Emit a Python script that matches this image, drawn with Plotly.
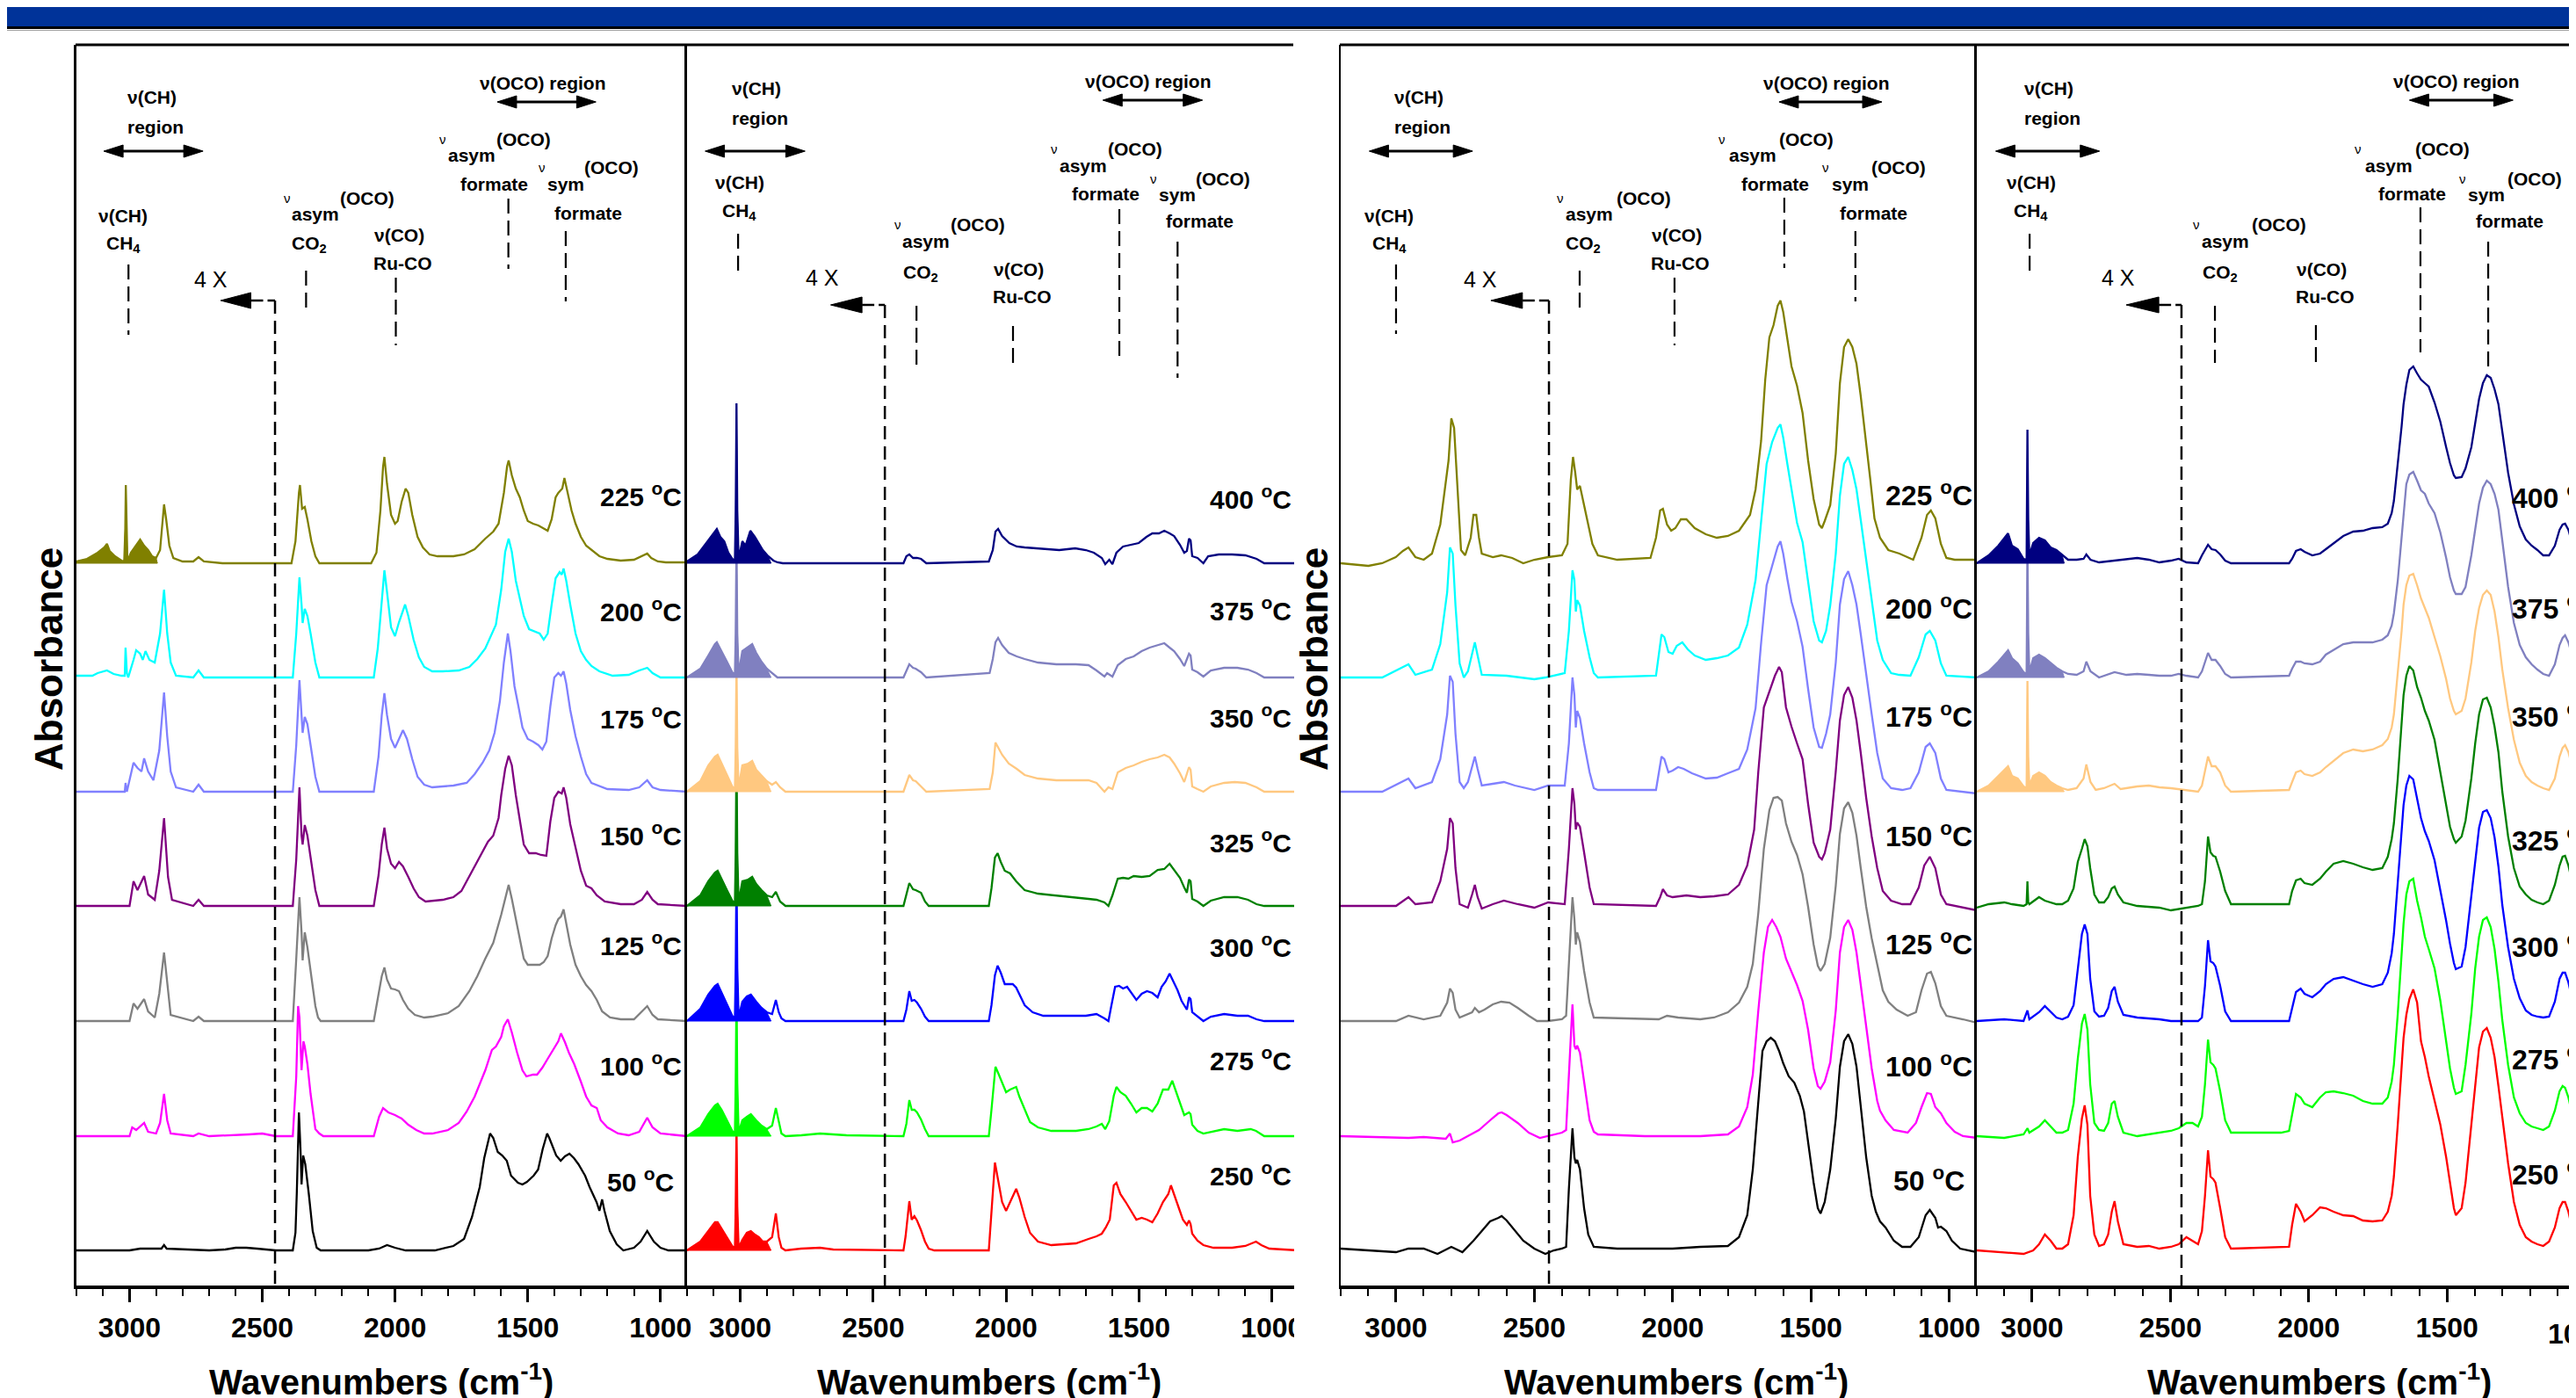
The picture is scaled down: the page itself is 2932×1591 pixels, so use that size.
import plotly.graph_objects as go

W, H = 2932, 1591

# ---------------- data (absorbance, arbitrary units, per spectrum: (wavenumber, value)) ----------------
TEMPS_LOW = ['50', '100', '125', '150', '175', '200', '225']
TEMPS_HIGH = ['250', '275', '300', '325', '350', '375', '400']
OFFSETS = [40, 170, 301, 432, 562, 692, 822]   # stacking offsets, bottom -> top

COLORS = {'50': '#000000', '100': '#FF00FF', '125': '#808080', '150': '#800080',
          '175': '#8080FF', '200': '#00FFFF', '225': '#808000',
          '250': '#FF0000', '275': '#00FF00', '300': '#0000FF', '325': '#008000',
          '350': '#FFC880', '375': '#8080C0', '400': '#000080'}

# ---- left figure, low temperatures ----
A50 = [(3200,0),(3000,0),(2960,2),(2945,2),(2880,2),(2870,6),(2860,2),(2700,0),(2640,1),(2600,3),(2560,3),(2520,2),(2450,0),(2385,0),(2375,20),(2370,65),(2362,157),(2356,115),(2352,75),(2346,108),(2338,98),(2325,65),(2310,22),(2295,3),(2280,0),(2100,0),(2060,2),(2030,6),(2000,3),(1960,0),(1850,0),(1780,5),(1740,13),(1710,38),(1681,72),(1664,105),(1642,133),(1630,128),(1613,112),(1596,108),(1579,102),(1563,85),(1537,77),(1520,75),(1503,78),(1478,85),(1461,92),(1444,115),(1427,133),(1419,128),(1393,108),(1376,102),(1360,107),(1343,110),(1326,105),(1309,98),(1284,85),(1267,72),(1241,55),(1230,45),(1220,58),(1211,45),(1191,22),(1165,7),(1140,0),(1100,3),(1075,10),(1050,22),(1025,10),(1000,3),(970,0),(900,0)]
A100 = [(3200,0),(3000,0),(2990,10),(2975,7),(2945,15),(2930,5),(2900,3),(2885,15),(2870,48),(2858,18),(2845,3),(2760,0),(2740,3),(2700,0),(2550,2),(2500,3),(2450,0),(2385,0),(2372,68),(2365,148),(2360,135),(2352,75),(2345,108),(2340,102),(2330,82),(2318,48),(2300,8),(2285,3),(2270,0),(2080,0),(2060,22),(2045,32),(2025,27),(2000,24),(1975,20),(1950,13),(1920,7),(1890,3),(1860,3),(1800,7),(1760,15),(1730,28),(1700,45),(1660,75),(1635,98),(1620,102),(1600,113),(1590,125),(1575,133),(1560,118),(1540,95),(1520,75),(1505,68),(1480,70),(1465,70),(1445,78),(1425,88),(1410,95),(1395,102),(1385,108),(1375,117),(1360,107),(1345,95),(1325,82),(1300,62),(1280,45),(1260,35),(1240,32),(1225,18),(1200,10),(1160,3),(1120,1),(1080,5),(1050,21),(1030,10),(1000,3),(900,0)]
A125 = [(3200,0),(3000,0),(2985,20),(2970,14),(2945,25),(2930,11),(2905,4),(2888,31),(2870,78),(2858,44),(2845,7),(2760,0),(2740,5),(2720,0),(2385,0),(2372,71),(2360,141),(2352,101),(2348,69),(2340,101),(2330,84),(2318,57),(2300,17),(2290,4),(2280,0),(2080,0),(2065,27),(2050,51),(2040,61),(2030,47),(2015,37),(2000,36),(1985,34),(1970,24),(1950,14),(1925,7),(1890,4),(1860,5),(1800,9),(1760,17),(1720,34),(1690,51),(1660,71),(1630,89),(1600,121),(1585,141),(1572,155),(1560,139),(1545,117),(1530,94),(1515,71),(1500,64),(1475,64),(1455,64),(1440,67),(1425,74),(1410,94),(1395,109),(1385,116),(1375,119),(1365,127),(1355,111),(1340,87),(1320,64),(1300,51),(1280,41),(1260,34),(1240,24),(1220,11),(1190,4),(1150,2),(1100,2),(1070,11),(1050,17),(1030,7),(1010,2),(900,0)]
A150 = [(3200,0),(3000,0),(2985,28),(2970,18),(2945,34),(2930,13),(2905,7),(2888,40),(2870,100),(2855,33),(2840,7),(2760,0),(2740,7),(2720,0),(2385,0),(2372,53),(2360,135),(2352,80),(2348,70),(2340,92),(2330,80),(2318,55),(2300,18),(2285,0),(2080,0),(2062,35),(2050,70),(2040,89),(2030,65),(2015,48),(2000,43),(1985,50),(1970,45),(1950,33),(1930,20),(1910,10),(1885,5),(1820,7),(1780,10),(1750,17),(1710,40),(1680,57),(1650,73),(1630,80),(1610,100),(1600,126),(1585,156),(1572,171),(1560,160),(1545,126),(1530,96),(1515,70),(1495,60),(1470,60),(1450,58),(1430,57),(1415,96),(1400,123),(1385,130),(1372,128),(1365,135),(1355,123),(1340,93),(1320,65),(1300,40),(1280,23),(1260,20),(1240,12),(1210,5),(1150,2),(1100,2),(1070,7),(1050,16),(1030,7),(1010,2),(900,0)]
A175 = [(3200,0),(3030,0),(3018,0),(3015,10),(3010,0),(2985,33),(2970,27),(2955,23),(2945,38),(2930,23),(2910,13),(2888,47),(2870,113),(2858,63),(2845,23),(2825,5),(2760,0),(2740,8),(2720,0),(2385,0),(2372,53),(2360,127),(2352,87),(2348,67),(2340,85),(2330,77),(2318,53),(2300,17),(2285,0),(2080,0),(2062,40),(2050,87),(2040,112),(2030,87),(2015,60),(2000,50),(1985,60),(1970,70),(1955,60),(1935,37),(1915,17),(1890,8),(1860,5),(1780,7),(1730,10),(1700,20),(1670,33),(1645,47),(1625,67),(1605,103),(1590,147),(1575,180),(1565,160),(1550,120),(1535,97),(1520,73),(1500,60),(1480,57),(1460,53),(1445,48),(1430,57),(1415,97),(1400,130),(1385,135),(1375,132),(1365,137),(1355,123),(1340,93),(1320,63),(1300,40),(1280,20),(1260,10),(1200,3),(1120,2),(1080,5),(1050,13),(1030,5),(1000,2),(900,0)]
A200 = [(3200,2),(3140,2),(3120,5),(3085,8),(3060,4),(3030,2),(3018,2),(3015,34),(3010,5),(3005,0),(2985,20),(2975,31),(2960,27),(2950,20),(2940,30),(2925,20),(2905,17),(2885,50),(2870,100),(2858,50),(2845,17),(2825,2),(2760,0),(2740,8),(2720,0),(2385,0),(2372,50),(2360,114),(2352,83),(2348,62),(2340,78),(2330,70),(2318,50),(2300,17),(2285,0),(2080,0),(2065,33),(2050,83),(2040,122),(2030,97),(2015,57),(2000,47),(1985,63),(1962,83),(1950,70),(1930,43),(1910,23),(1890,12),(1860,7),(1820,7),(1760,8),(1720,12),(1690,21),(1660,33),(1640,47),(1620,60),(1600,100),(1585,143),(1572,158),(1560,143),(1545,110),(1530,90),(1515,70),(1495,55),(1470,52),(1455,50),(1440,43),(1425,50),(1410,83),(1395,113),(1380,120),(1372,117),(1365,124),(1355,110),(1340,83),(1320,50),(1300,30),(1280,20),(1260,13),(1230,7),(1180,2),(1120,3),(1080,8),(1050,11),(1030,5),(1000,0),(900,0)]
A225 = [(3200,2),(3160,5),(3120,12),(3095,18),(3085,22),(3075,14),(3055,8),(3030,3),(3020,2),(3016,40),(3014,89),(3011,30),(3008,2),(2995,12),(2975,20),(2960,27),(2945,20),(2930,15),(2915,8),(2900,6),(2885,15),(2877,45),(2870,67),(2862,50),(2850,20),(2835,6),(2800,2),(2760,2),(2740,7),(2720,2),(2650,0),(2390,0),(2375,25),(2362,80),(2358,89),(2350,62),(2340,64),(2330,50),(2315,25),(2300,8),(2285,0),(2090,0),(2070,12),(2055,60),(2045,110),(2040,121),(2030,90),(2015,55),(2000,45),(1990,48),(1975,70),(1960,85),(1950,80),(1935,55),(1915,30),(1895,18),(1870,10),(1840,8),(1780,8),(1740,10),(1700,16),(1660,28),(1630,36),(1610,45),(1590,80),(1578,110),(1572,117),(1560,100),(1545,85),(1530,75),(1515,60),(1500,48),(1480,45),(1460,43),(1440,40),(1425,37),(1410,50),(1395,75),(1385,80),(1370,85),(1362,97),(1350,80),(1335,60),(1320,45),(1300,30),(1280,20),(1260,15),(1230,8),(1200,5),(1150,3),(1100,4),(1070,8),(1050,11),(1035,6),(1010,2),(980,1),(900,1)]

# ---- left figure, high temperatures ----
B250 = [(3200,0),(3150,10),(3120,22),(3095,32),(3085,32),(3070,25),(3050,15),(3030,5),(3020,2),(3017,50),(3014,145),(3011,50),(3006,3),(2992,12),(2975,20),(2960,22),(2945,18),(2930,15),(2915,10),(2900,10),(2880,15),(2866,42),(2855,15),(2845,3),(2830,0),(2771,2),(2700,3),(2650,1),(2386,0),(2378,16),(2364,56),(2355,35),(2345,39),(2335,34),(2320,23),(2305,10),(2291,2),(2270,0),(2065,0),(2055,40),(2042,100),(2030,80),(2015,55),(2000,45),(1985,55),(1962,70),(1950,60),(1930,38),(1910,20),(1880,10),(1830,6),(1737,8),(1690,13),(1660,16),(1640,19),(1625,26),(1610,35),(1595,74),(1585,77),(1570,64),(1550,55),(1530,45),(1510,35),(1490,37),(1470,35),(1450,32),(1430,42),(1410,55),(1390,64),(1380,74),(1365,62),(1350,48),(1335,35),(1320,29),(1312,34),(1306,30),(1300,19),(1280,11),(1258,6),(1220,3),(1150,3),(1100,5),(1060,10),(1040,6),(1010,2),(900,0)]
B275 = [(3200,0),(3150,10),(3120,25),(3095,35),(3085,37),(3070,30),(3050,18),(3030,6),(3020,3),(3017,60),(3014,169),(3011,60),(3006,4),(2992,18),(2975,22),(2960,25),(2940,18),(2920,12),(2900,8),(2880,12),(2866,32),(2855,15),(2845,3),(2830,0),(2770,1),(2700,3),(2600,1),(2386,0),(2375,14),(2364,41),(2355,30),(2345,30),(2335,27),(2320,19),(2305,8),(2291,0),(2065,0),(2055,30),(2040,79),(2030,72),(2015,60),(2000,50),(1985,53),(1962,56),(1950,45),(1930,30),(1910,16),(1880,10),(1830,6),(1737,6),(1690,8),(1660,11),(1640,14),(1627,8),(1612,17),(1595,46),(1585,56),(1570,50),(1550,46),(1530,37),(1510,27),(1490,32),(1470,32),(1450,28),(1430,37),(1410,53),(1390,53),(1375,63),(1360,50),(1345,37),(1330,24),(1312,27),(1306,25),(1300,13),(1280,6),(1258,3),(1230,5),(1180,8),(1130,6),(1080,8),(1060,6),(1029,0),(900,0)]
B300 = [(3200,0),(3150,14),(3120,30),(3095,40),(3085,42),(3070,32),(3050,20),(3030,6),(3020,3),(3017,60),(3014,174),(3011,60),(3006,4),(2992,22),(2975,28),(2960,30),(2940,22),(2920,15),(2900,10),(2880,8),(2866,24),(2855,10),(2845,3),(2830,0),(2386,0),(2375,13),(2364,34),(2355,23),(2345,24),(2335,21),(2320,14),(2305,5),(2291,0),(2065,0),(2055,18),(2042,52),(2032,63),(2020,55),(2005,42),(1990,42),(1975,42),(1962,38),(1950,30),(1930,18),(1900,10),(1860,6),(1700,6),(1660,8),(1630,3),(1615,0),(1605,16),(1590,39),(1575,40),(1560,37),(1545,39),(1525,31),(1510,24),(1490,31),(1470,34),(1450,32),(1430,27),(1415,39),(1400,45),(1385,54),(1370,45),(1355,35),(1340,23),(1320,13),(1312,27),(1306,25),(1300,10),(1280,5),(1258,0),(1230,5),(1180,8),(1130,6),(1090,6),(1058,2),(1029,0),(900,0)]
B325 = [(3200,0),(3150,12),(3120,28),(3095,38),(3085,40),(3070,30),(3050,18),(3030,6),(3020,3),(3017,60),(3014,180),(3011,60),(3006,4),(2992,28),(2970,30),(2955,33),(2940,25),(2920,18),(2900,12),(2880,10),(2866,16),(2850,5),(2830,0),(2386,0),(2372,18),(2364,26),(2350,19),(2340,18),(2320,15),(2305,5),(2291,0),(2065,0),(2055,20),(2042,55),(2032,60),(2020,50),(2005,40),(1985,37),(1962,28),(1930,18),(1880,14),(1811,12),(1737,10),(1690,8),(1660,7),(1630,4),(1615,0),(1600,12),(1580,31),(1560,32),(1540,31),(1520,34),(1490,33),(1460,34),(1430,41),(1405,42),(1385,48),(1368,41),(1346,32),(1330,21),(1320,15),(1312,30),(1306,28),(1300,8),(1280,5),(1258,0),(1230,6),(1180,10),(1130,10),(1090,7),(1058,2),(1029,0),(900,0)]
B350 = [(3200,0),(3150,12),(3120,30),(3095,40),(3085,42),(3070,32),(3050,18),(3030,6),(3020,3),(3017,50),(3014,150),(3011,50),(3006,4),(2992,30),(2970,32),(2955,35),(2940,25),(2920,18),(2900,12),(2880,8),(2866,11),(2850,5),(2830,0),(2386,0),(2375,10),(2364,19),(2350,13),(2340,12),(2320,6),(2300,0),(2062,3),(2050,22),(2040,56),(2030,50),(2015,42),(1990,32),(1960,26),(1930,19),(1880,15),(1811,13),(1737,13),(1690,13),(1660,10),(1630,0),(1615,5),(1600,3),(1580,22),(1550,27),(1520,30),(1490,34),(1460,37),(1430,39),(1405,42),(1385,39),(1368,32),(1346,21),(1330,11),(1312,28),(1306,25),(1300,6),(1280,3),(1258,0),(1230,6),(1180,10),(1140,11),(1100,10),(1058,5),(1029,0),(900,0)]
B375 = [(3200,0),(3150,10),(3120,25),(3095,38),(3088,40),(3070,30),(3050,18),(3030,6),(3020,3),(3017,50),(3014,160),(3011,50),(3006,4),(2992,30),(2970,35),(2955,38),(2940,28),(2920,18),(2900,10),(2880,5),(2860,0),(2386,0),(2375,8),(2364,15),(2350,11),(2340,10),(2320,6),(2300,0),(2062,5),(2050,21),(2040,40),(2030,45),(2015,37),(1990,28),(1960,24),(1930,21),(1880,17),(1811,15),(1737,15),(1690,14),(1660,8),(1630,1),(1620,5),(1600,1),(1580,14),(1550,21),(1520,24),(1490,30),(1460,34),(1430,37),(1405,39),(1385,34),(1368,30),(1346,21),(1330,13),(1312,27),(1306,25),(1300,9),(1280,6),(1258,1),(1230,8),(1180,11),(1130,11),(1090,9),(1058,5),(1029,0),(900,0)]
B400 = [(3200,2),(3160,10),(3130,22),(3110,30),(3095,35),(3088,39),(3075,30),(3060,25),(3045,12),(3030,5),(3020,3),(3017,60),(3014,182),(3011,60),(3006,5),(2992,25),(2980,20),(2962,37),(2945,30),(2930,22),(2915,15),(2895,8),(2875,3),(2860,1),(2840,0),(2386,0),(2375,8),(2364,10),(2350,6),(2335,6),(2320,5),(2300,0),(2065,2),(2050,15),(2040,36),(2030,39),(2015,31),(1988,23),(1960,19),(1930,18),(1880,17),(1800,15),(1740,17),(1700,15),(1670,12),(1640,6),(1627,-1),(1612,4),(1600,-1),(1585,12),(1560,19),(1530,21),(1501,23),(1472,30),(1450,34),(1425,34),(1405,37),(1385,34),(1368,31),(1346,21),(1330,12),(1320,14),(1312,28),(1306,26),(1300,8),(1280,6),(1258,0),(1240,8),(1200,10),(1150,10),(1100,9),(1058,5),(1029,0),(900,0)]

# ---- right figure, low temperatures ----
C50 = [(3200,2),(3100,0),(3000,-2),(2955,2),(2900,2),(2850,-4),(2800,4),(2760,-2),(2720,11),(2690,22),(2660,33),(2630,37),(2618,39),(2600,34),(2570,22),(2540,11),(2500,2),(2460,-4),(2430,0),(2400,2),(2385,4),(2375,70),(2362,139),(2355,106),(2350,99),(2345,103),(2335,92),(2320,48),(2305,18),(2285,4),(2200,2),(2000,2),(1900,4),(1800,5),(1760,15),(1730,40),(1710,92),(1690,165),(1675,227),(1660,238),(1645,242),(1630,238),(1615,227),(1600,213),(1580,198),(1560,191),(1540,176),(1525,158),(1510,121),(1490,77),(1475,48),(1465,42),(1450,55),(1430,92),(1410,150),(1395,209),(1380,238),(1365,246),(1350,235),(1335,209),(1320,165),(1300,106),(1280,62),(1265,44),(1250,33),(1230,26),(1200,11),(1170,4),(1140,4),(1110,15),(1085,40),(1070,46),(1050,37),(1040,26),(1030,27),(1010,22),(990,11),(960,2),(900,-2)]
C100 = [(3200,0),(2955,-2),(2900,-1),(2820,-3),(2805,3),(2795,-7),(2770,-5),(2740,0),(2700,7),(2660,18),(2630,26),(2618,27),(2600,24),(2560,15),(2520,4),(2480,-2),(2450,0),(2400,4),(2385,7),(2375,70),(2362,150),(2355,103),(2350,99),(2345,103),(2335,95),(2320,62),(2300,18),(2285,5),(2270,2),(2100,0),(1900,0),(1800,2),(1760,11),(1730,33),(1710,70),(1690,143),(1670,209),(1655,238),(1640,246),(1625,238),(1610,227),(1590,202),(1570,187),(1550,172),(1530,154),(1510,121),(1490,77),(1475,57),(1465,54),(1450,62),(1430,84),(1410,143),(1395,209),(1380,238),(1365,246),(1350,235),(1335,209),(1320,172),(1300,121),(1280,77),(1260,40),(1250,29),(1230,18),(1200,7),(1150,4),(1120,15),(1100,33),(1080,49),(1066,48),(1050,33),(1030,26),(1010,15),(980,5),(950,0),(900,-2)]
C125 = [(3200,0),(3000,0),(2955,6),(2900,2),(2840,6),(2815,21),(2805,37),(2795,32),(2785,13),(2770,4),(2725,10),(2715,15),(2700,10),(2680,13),(2650,19),(2620,22),(2590,21),(2560,15),(2520,6),(2490,0),(2450,0),(2400,2),(2385,6),(2375,65),(2362,141),(2355,116),(2350,87),(2345,101),(2335,90),(2320,57),(2300,21),(2285,4),(2100,2),(2050,2),(2020,6),(1980,4),(1900,2),(1850,4),(1800,10),(1760,21),(1730,39),(1710,65),(1690,123),(1670,196),(1650,240),(1635,254),(1620,255),(1605,251),(1590,225),(1570,204),(1550,189),(1530,167),(1510,130),(1490,87),(1475,63),(1465,57),(1450,65),(1430,95),(1410,154),(1395,213),(1380,242),(1365,249),(1350,237),(1335,211),(1320,175),(1300,130),(1280,94),(1260,65),(1240,35),(1220,22),(1190,13),(1150,6),(1120,10),(1100,35),(1080,54),(1066,56),(1050,43),(1030,17),(1010,6),(950,2),(900,-2)]
C150 = [(3200,0),(3000,0),(2955,10),(2930,2),(2870,4),(2840,28),(2815,65),(2805,100),(2795,94),(2785,43),(2770,2),(2740,-2),(2725,13),(2715,24),(2705,10),(2690,-3),(2650,2),(2610,6),(2560,2),(2500,-2),(2450,4),(2390,2),(2375,65),(2362,134),(2355,116),(2350,87),(2345,95),(2335,90),(2320,61),(2300,21),(2285,2),(2060,0),(2045,10),(2035,19),(2020,12),(2000,10),(1950,12),(1900,10),(1850,11),(1800,13),(1760,24),(1730,46),(1705,87),(1690,153),(1670,226),(1650,244),(1630,262),(1615,272),(1605,266),(1590,226),(1570,204),(1550,185),(1530,167),(1510,116),(1490,72),(1470,56),(1460,53),(1450,60),(1430,87),(1410,153),(1395,211),(1380,240),(1365,249),(1350,237),(1335,211),(1320,175),(1300,123),(1280,79),(1260,43),(1240,17),(1210,6),(1170,2),(1140,2),(1110,21),(1090,46),(1070,56),(1050,43),(1030,13),(1010,2),(900,-5)]
C175 = [(3200,0),(3050,0),(2955,15),(2930,4),(2870,11),(2840,37),(2815,88),(2805,132),(2795,125),(2785,66),(2770,11),(2755,4),(2740,11),(2725,29),(2715,40),(2705,26),(2690,7),(2650,9),(2610,11),(2570,7),(2500,2),(2450,7),(2390,7),(2375,55),(2362,130),(2355,110),(2350,73),(2345,92),(2335,84),(2320,55),(2300,22),(2285,4),(2270,2),(2060,2),(2050,22),(2040,40),(2030,37),(2015,22),(2000,24),(1980,28),(1960,26),(1930,21),(1880,15),(1840,16),(1800,21),(1760,26),(1730,48),(1700,95),(1680,169),(1660,235),(1640,257),(1620,279),(1610,285),(1600,271),(1585,242),(1570,216),(1550,194),(1530,165),(1510,117),(1490,73),(1470,51),(1460,50),(1445,66),(1430,88),(1410,147),(1395,213),(1380,242),(1365,251),(1350,235),(1335,213),(1320,180),(1300,132),(1280,88),(1260,44),(1240,15),(1210,4),(1170,2),(1140,4),(1110,22),(1085,51),(1070,55),(1050,44),(1030,15),(1010,2),(900,-2)]
C200 = [(3200,0),(3050,0),(2955,15),(2930,3),(2870,9),(2840,38),(2815,97),(2805,148),(2795,141),(2785,82),(2770,16),(2755,0),(2740,7),(2725,27),(2715,40),(2705,25),(2690,3),(2600,2),(2500,-2),(2460,0),(2420,3),(2390,5),(2375,53),(2362,122),(2355,111),(2350,75),(2345,88),(2335,82),(2320,53),(2300,23),(2285,5),(2270,0),(2060,2),(2050,23),(2040,49),(2030,46),(2015,29),(2000,27),(1985,36),(1965,40),(1945,32),(1920,25),(1880,20),(1840,22),(1800,25),(1760,34),(1730,60),(1700,111),(1680,176),(1660,243),(1640,268),(1620,284),(1610,288),(1600,273),(1585,243),(1570,213),(1550,176),(1530,154),(1510,111),(1490,64),(1470,42),(1460,40),(1445,53),(1430,82),(1410,141),(1395,207),(1380,243),(1365,251),(1350,236),(1335,214),(1320,180),(1300,133),(1280,89),(1260,42),(1240,20),(1210,5),(1180,3),(1140,2),(1110,23),(1085,49),(1070,53),(1050,42),(1030,16),(1010,2),(900,0)]
C225 = [(3200,0),(3100,-3),(3050,0),(3001,7),(2975,14),(2955,18),(2930,7),(2900,4),(2870,11),(2840,44),(2810,117),(2800,165),(2790,154),(2780,95),(2765,15),(2750,9),(2730,29),(2720,55),(2710,55),(2700,29),(2690,11),(2650,7),(2620,9),(2580,6),(2540,0),(2500,4),(2450,7),(2400,9),(2380,22),(2368,95),(2360,121),(2352,103),(2345,84),(2335,88),(2320,66),(2305,44),(2290,22),(2270,9),(2200,4),(2080,6),(2060,29),(2045,60),(2035,62),(2020,44),(2005,37),(1990,40),(1970,50),(1950,50),(1920,40),(1880,33),(1840,29),(1800,31),(1760,37),(1720,55),(1700,84),(1680,139),(1665,209),(1650,257),(1635,271),(1620,293),(1610,299),(1600,286),(1585,257),(1570,224),(1550,202),(1530,171),(1510,117),(1490,73),(1470,44),(1460,40),(1450,48),(1430,66),(1410,125),(1395,205),(1380,246),(1365,255),(1350,246),(1335,227),(1320,191),(1300,139),(1285,95),(1270,51),(1250,29),(1220,15),(1180,11),(1130,4),(1100,29),(1080,55),(1066,60),(1050,51),(1030,22),(1010,6),(980,4),(900,4)]

# ---- right figure, high temperatures ----
D250 = [(3200,0),(3101,-2),(3031,-4),(2996,0),(2975,7),(2954,18),(2933,11),(2912,2),(2891,2),(2870,7),(2850,40),(2835,106),(2820,150),(2810,165),(2800,143),(2790,62),(2775,18),(2758,5),(2740,7),(2725,18),(2712,44),(2702,56),(2690,33),(2670,7),(2620,4),(2578,5),(2540,2),(2498,4),(2470,7),(2442,15),(2420,11),(2400,7),(2386,22),(2375,62),(2364,114),(2355,84),(2345,81),(2337,77),(2320,48),(2302,15),(2281,2),(2071,4),(2060,29),(2046,53),(2029,44),(2015,33),(1987,40),(1959,49),(1938,48),(1910,44),(1875,40),(1839,39),(1804,34),(1769,33),(1734,34),(1714,44),(1700,62),(1692,84),(1678,143),(1664,209),(1657,242),(1647,268),(1636,286),(1622,297),(1608,282),(1594,238),(1580,220),(1566,198),(1545,172),(1524,143),(1503,106),(1489,77),(1475,48),(1468,40),(1447,48),(1433,77),(1412,143),(1398,194),(1384,231),(1370,249),(1356,253),(1342,242),(1328,220),(1314,187),(1300,150),(1279,99),(1258,55),(1237,29),(1215,15),(1194,10),(1173,7),(1152,5),(1131,10),(1110,26),(1093,48),(1082,55),(1073,55),(1061,44),(1045,22),(1030,7),(1008,0)]
D275 = [(3200,0),(3101,-2),(3031,2),(3017,9),(3010,4),(2975,11),(2954,18),(2933,11),(2912,4),(2891,4),(2870,7),(2850,37),(2835,88),(2820,128),(2810,139),(2800,121),(2790,59),(2775,15),(2758,7),(2740,6),(2725,15),(2712,37),(2702,40),(2690,22),(2670,4),(2620,0),(2578,2),(2540,4),(2498,6),(2470,9),(2442,15),(2420,15),(2400,11),(2386,22),(2375,59),(2364,110),(2355,84),(2345,81),(2337,77),(2320,51),(2302,18),(2281,4),(2100,4),(2071,6),(2060,26),(2046,48),(2029,44),(2015,37),(1987,33),(1959,44),(1938,50),(1910,51),(1875,49),(1839,46),(1804,40),(1769,37),(1734,37),(1714,44),(1700,62),(1692,81),(1678,139),(1664,205),(1657,242),(1647,275),(1636,290),(1622,293),(1608,268),(1594,249),(1580,227),(1566,213),(1545,191),(1524,154),(1503,110),(1489,77),(1475,55),(1468,48),(1447,51),(1433,81),(1412,139),(1398,191),(1384,227),(1370,246),(1356,249),(1342,238),(1328,213),(1314,176),(1300,132),(1279,81),(1258,44),(1237,26),(1215,15),(1194,11),(1173,9),(1152,7),(1131,11),(1110,29),(1093,51),(1082,57),(1073,55),(1061,44),(1045,22),(1030,7),(1008,0)]
D300 = [(3200,0),(3101,2),(3031,0),(3017,12),(3010,2),(2975,10),(2954,17),(2933,11),(2912,4),(2891,2),(2870,5),(2850,18),(2835,62),(2820,99),(2810,110),(2800,99),(2790,48),(2775,11),(2758,5),(2740,6),(2725,15),(2712,34),(2702,39),(2690,22),(2670,7),(2620,4),(2540,2),(2498,0),(2400,0),(2386,4),(2375,40),(2364,92),(2355,68),(2345,66),(2337,62),(2320,40),(2302,11),(2281,0),(2071,0),(2060,15),(2046,33),(2029,37),(2015,31),(1987,27),(1959,34),(1938,42),(1910,48),(1875,50),(1839,46),(1804,42),(1769,39),(1734,42),(1714,55),(1700,77),(1692,99),(1678,158),(1664,216),(1657,246),(1647,268),(1636,279),(1622,275),(1608,253),(1594,231),(1580,216),(1566,205),(1545,183),(1524,150),(1503,114),(1489,88),(1475,66),(1468,59),(1447,62),(1433,84),(1412,143),(1398,187),(1384,220),(1370,238),(1356,240),(1342,231),(1328,209),(1314,176),(1300,132),(1279,84),(1258,48),(1237,26),(1215,12),(1194,7),(1173,5),(1152,4),(1131,5),(1110,22),(1093,48),(1082,55),(1073,55),(1061,44),(1045,22),(1030,5),(1008,0)]
D325 = [(3200,-2),(3157,2),(3101,4),(3073,2),(3031,0),(3020,2),(3017,28),(3014,4),(3010,2),(2975,10),(2954,6),(2912,2),(2891,2),(2870,6),(2850,20),(2835,50),(2820,65),(2810,76),(2800,68),(2790,43),(2775,13),(2758,4),(2740,4),(2725,10),(2712,20),(2702,22),(2690,13),(2670,4),(2620,0),(2540,-2),(2498,-5),(2442,-2),(2400,0),(2386,2),(2375,28),(2364,79),(2355,61),(2345,57),(2337,56),(2320,39),(2302,17),(2281,2),(2071,2),(2060,17),(2046,29),(2029,31),(2015,26),(1987,24),(1959,31),(1938,39),(1910,48),(1875,51),(1839,48),(1804,44),(1769,41),(1734,43),(1714,56),(1700,76),(1692,94),(1678,145),(1664,211),(1657,240),(1647,262),(1636,273),(1622,268),(1608,249),(1594,237),(1580,222),(1566,211),(1545,189),(1524,152),(1503,116),(1489,90),(1475,76),(1468,72),(1447,79),(1433,97),(1412,145),(1398,185),(1384,218),(1370,235),(1356,237),(1342,226),(1328,204),(1314,175),(1300,130),(1279,79),(1258,43),(1237,22),(1215,13),(1194,7),(1173,4),(1152,2),(1131,6),(1110,24),(1093,46),(1082,56),(1073,57),(1061,46),(1045,24),(1030,7),(1008,0)]
D350 = [(3200,0),(3157,7),(3122,18),(3101,24),(3087,29),(3073,18),(3052,15),(3031,6),(3020,4),(3019,40),(3017,126),(3014,40),(3010,7),(2996,18),(2975,22),(2954,18),(2933,11),(2912,7),(2891,4),(2870,2),(2839,4),(2814,15),(2804,31),(2789,11),(2770,2),(2740,4),(2702,9),(2680,3),(2659,4),(2620,6),(2578,7),(2540,5),(2498,4),(2442,2),(2400,0),(2386,7),(2364,40),(2351,29),(2337,29),(2320,22),(2302,7),(2281,0),(2071,2),(2060,11),(2046,22),(2029,24),(2015,20),(1987,18),(1959,22),(1938,28),(1910,35),(1875,44),(1839,48),(1804,46),(1769,48),(1734,53),(1714,60),(1700,73),(1692,88),(1678,132),(1664,183),(1657,213),(1647,235),(1636,246),(1622,248),(1608,235),(1594,220),(1580,209),(1566,198),(1545,176),(1524,154),(1503,128),(1489,106),(1475,92),(1468,88),(1447,92),(1433,106),(1412,147),(1398,183),(1384,209),(1370,224),(1356,229),(1342,224),(1328,205),(1314,176),(1300,139),(1279,95),(1258,59),(1237,33),(1215,18),(1194,11),(1173,7),(1152,4),(1131,2),(1110,15),(1093,40),(1082,50),(1073,53),(1061,45),(1045,26),(1030,9),(1008,0)]
D375 = [(3200,0),(3157,7),(3122,18),(3101,26),(3087,31),(3073,22),(3052,16),(3031,6),(3020,4),(3019,50),(3017,154),(3014,50),(3010,6),(2996,22),(2975,26),(2954,22),(2933,16),(2912,11),(2891,7),(2870,4),(2839,3),(2814,7),(2804,18),(2789,7),(2758,0),(2702,6),(2659,3),(2620,4),(2578,3),(2540,2),(2498,2),(2470,4),(2442,2),(2400,0),(2386,7),(2364,28),(2351,20),(2337,20),(2320,13),(2302,4),(2281,0),(2071,2),(2060,10),(2046,18),(2029,18),(2015,16),(1987,15),(1959,18),(1938,26),(1910,31),(1875,38),(1839,40),(1804,40),(1769,40),(1734,43),(1714,48),(1700,59),(1692,73),(1678,110),(1664,161),(1657,191),(1647,220),(1636,231),(1622,234),(1608,224),(1594,213),(1580,209),(1566,198),(1545,187),(1524,165),(1503,136),(1489,114),(1475,99),(1468,95),(1447,95),(1433,103),(1412,139),(1398,169),(1384,198),(1370,216),(1356,224),(1342,220),(1328,209),(1314,191),(1300,154),(1279,103),(1258,62),(1237,37),(1215,23),(1194,15),(1173,9),(1152,4),(1131,2),(1110,15),(1093,37),(1082,45),(1073,48),(1061,40),(1045,22),(1030,7),(1008,0)]
D400 = [(3200,0),(3157,9),(3122,20),(3101,29),(3087,34),(3073,20),(3052,16),(3031,5),(3020,4),(3019,60),(3017,152),(3014,50),(3010,9),(2996,23),(2975,29),(2954,26),(2933,18),(2912,15),(2891,9),(2870,4),(2839,4),(2814,5),(2804,10),(2789,4),(2758,1),(2702,3),(2659,4),(2620,6),(2578,4),(2540,1),(2498,3),(2470,5),(2442,1),(2400,0),(2386,9),(2364,21),(2351,16),(2337,15),(2320,10),(2302,3),(2281,0),(2071,0),(2060,5),(2046,14),(2029,16),(2015,13),(1987,9),(1959,11),(1938,16),(1910,23),(1875,31),(1839,36),(1804,37),(1769,40),(1734,41),(1714,45),(1700,57),(1692,71),(1678,111),(1664,156),(1657,181),(1647,203),(1636,220),(1622,224),(1608,216),(1594,209),(1580,205),(1566,201),(1545,183),(1524,161),(1503,132),(1489,114),(1475,100),(1468,97),(1447,98),(1433,108),(1412,132),(1398,161),(1384,187),(1370,205),(1356,214),(1342,211),(1328,198),(1314,181),(1300,148),(1279,103),(1258,67),(1237,42),(1215,27),(1194,20),(1173,15),(1152,9),(1131,9),(1110,20),(1093,38),(1082,44),(1073,45),(1061,38),(1045,20),(1030,5),(1008,0)]

MAJOR_TICKS = [3000, 2500, 2000, 1500, 1000]

# ---------------- layout geometry (pixels) ----------------
PLOT_TOP, PLOT_BOTTOM = 43, 1455
FONT = 'Liberation Sans, Arial, sans-serif'

def px(x):
    return x / W

def py(y):
    return 1 - y / H

# name, axis suffix, left px, right px, range, temps, spectra, fill limits
PANELS = [
    ('A', '', 79, 774, (3200, 900), TEMPS_LOW, [A50, A100, A125, A150, A175, A200, A225], {'225': 2895}),
    ('B', '2', 774, 1470, (3200, 900), TEMPS_HIGH, [B250, B275, B300, B325, B350, B375, B400],
     {t: 2884 for t in TEMPS_HIGH}),
    ('C', '3', 1518, 2242, (3200, 900), TEMPS_LOW, [C50, C100, C125, C150, C175, C200, C225], {}),
    ('D', '4', 2242, W, (3200, 3200 - (W - 2242) / 0.3148), TEMPS_HIGH,
     [D250, D275, D300, D325, D350, D375, D400], {'350': 2884, '375': 2884, '400': 2884}),
]

fig = go.Figure()
layout = dict(width=W, height=H, margin=dict(l=0, r=0, t=0, b=0),
              paper_bgcolor='white', plot_bgcolor='rgba(0,0,0,0)', showlegend=False)

for name, sfx, x0, x1, rng, temps, spectra, fills in PANELS:
    xa, ya = 'x' + sfx, 'y' + sfx
    for i, (t, pts) in enumerate(zip(temps, spectra)):
        off = OFFSETS[i]
        col = COLORS[t]
        if t in fills:
            lim = fills[t]
            seg = [p for p in pts if p[0] >= lim]
            fx = [p[0] for p in seg] + [lim, seg[0][0]]
            fy = [p[1] + off for p in seg] + [off, off]
            fig.add_trace(go.Scatter(x=fx, y=fy, xaxis=xa, yaxis=ya, mode='lines', fill='toself',
                                     fillcolor=col, line=dict(color=col, width=1), hoverinfo='skip'))
        fig.add_trace(go.Scatter(x=[p[0] for p in pts], y=[p[1] + off for p in pts], xaxis=xa, yaxis=ya,
                                 mode='lines', line=dict(color=col, width=2.3), name=t + ' °C'))
    layout['xaxis' + sfx] = dict(
        domain=[px(x0), px(x1)], range=list(rng), anchor=ya, showgrid=False, zeroline=False,
        showline=True, linecolor='black', linewidth=4, ticks='outside', ticklen=15, tickwidth=2.5,
        tickcolor='black', tickmode='array', tickvals=MAJOR_TICKS, ticktext=[str(v) for v in MAJOR_TICKS],
        tickfont=dict(family=FONT, size=32, color='black', weight='bold'), ticklabelstandoff=2,
        minor=dict(ticks='outside', ticklen=8, tickwidth=2, tickcolor='black', dtick=100, tick0=0),
        automargin=False, fixedrange=True)
    layout['yaxis' + sfx] = dict(
        domain=[py(PLOT_BOTTOM), py(PLOT_TOP)], range=[0, PLOT_BOTTOM - PLOT_TOP], anchor=xa,
        showgrid=False, zeroline=False, showline=True, linecolor='black', linewidth=2.5,
        ticks='', showticklabels=False, automargin=False, fixedrange=True)

# ---------------- annotations / markers ----------------
# label layouts (text, wavenumber, y px, size, bold)
LABELS_LOWPANEL = [
    ('ν(CH)', 2916, 103, 21, True), ('region', 2903, 137, 21, True),
    ('ν(CH)', 3024, 237, 21, True), ('CH<sub>4</sub>', 3024, 270, 21, True),
    ('4 X', 2695, 310, 25, False),
    ('ν', 2407, 217, 15, False), ('asym', 2300, 236, 21, True), ('(OCO)', 2105, 217, 21, True),
    ('CO<sub>2</sub>', 2322, 270, 21, True),
    ('ν(CO)', 1985, 259, 21, True), ('Ru-CO', 1972, 291, 21, True),
    ('ν(OCO) region', 1443, 86, 21, True),
    ('ν', 1820, 150, 15, False), ('asym', 1711, 168, 21, True), ('(OCO)', 1516, 150, 21, True),
    ('formate', 1628, 201, 21, True),
    ('ν', 1447, 183, 15, False), ('sym', 1357, 202, 21, True), ('(OCO)', 1184, 183, 21, True),
    ('formate', 1273, 234, 21, True),
]
LABELS_HIGHPANEL = [
    ('ν(CH)', 2938, 93, 21, True), ('region', 2926, 126, 21, True),
    ('ν(CH)', 3002, 200, 21, True), ('CH<sub>4</sub>', 3005, 233, 21, True),
    ('4 X', 2690, 308, 25, False),
    ('ν', 2407, 247, 15, False), ('asym', 2300, 266, 21, True), ('(OCO)', 2106, 247, 21, True),
    ('CO<sub>2</sub>', 2320, 303, 21, True),
    ('ν(CO)', 1952, 298, 21, True), ('Ru-CO', 1939, 329, 21, True),
    ('ν(OCO) region', 1466, 84, 21, True),
    ('ν', 1820, 162, 15, False), ('asym', 1711, 180, 21, True), ('(OCO)', 1516, 162, 21, True),
    ('formate', 1625, 212, 21, True),
    ('ν', 1444, 195, 15, False), ('sym', 1356, 213, 21, True), ('(OCO)', 1183, 195, 21, True),
    ('formate', 1272, 244, 21, True),
]
REGION_ARROWS = {'low': [(3097, 2723, 164), (1615, 1243, 108)],
                 'high': [(3132, 2756, 164), (1636, 1261, 106)]}
FOURX = {'low': (2657, 2543, 334), 'high': (2660, 2542, 339)}
PANEL_MARKS = {
    'A': dict(kind='low', corner=2452, marks=[(3004, 293, 373), (2335, 300, 348), (1997, 308, 385), (1573, 218, 298), (1357, 255, 335)]),
    'B': dict(kind='high', corner=2456, marks=[(3008, 258, 308), (2337, 340, 407), (1974, 363, 413), (1574, 230, 397), (1355, 267, 422)]),
    'C': dict(kind='low', corner=2447, marks=[(3000, 293, 372), (2336, 300, 348), (1993, 308, 385), (1596, 217, 297), (1339, 255, 335)]),
    'D': dict(kind='high', corner=2460, marks=[(3009, 258, 307), (2339, 340, 405), (1974, 362, 412), (1596, 228, 393), (1351, 267, 414)]),
}
TEMP_LABEL_POS = {
    'A': (721, 'center', [1335, 1203, 1066, 941, 808, 686, 555], 30),
    'B': (1415, 'center', [1328, 1197, 1068, 949, 807, 685, 558], 30),
    'C': (2187, 'center', [1334, 1204, 1065, 942, 806, 683, 554], 32),
    'D': (2849, 'left', [1327, 1196, 1068, 947, 806, 683, 557], 32),
}

annotations = []
shapes = []

def font(size, bold=True):
    return dict(family=FONT, size=size, color='black', weight='bold' if bold else 'normal')

for name, sfx, x0, x1, rng, temps, spectra, fills in PANELS:
    xa = 'x' + sfx
    scale = (x1 - x0) / (rng[0] - rng[1])      # px per cm-1
    spec = PANEL_MARKS[name]
    kind = spec['kind']
    labels = LABELS_LOWPANEL if kind == 'low' else LABELS_HIGHPANEL
    for text, wn, ypx, size, bold in labels:
        annotations.append(dict(text=text, x=wn, y=py(ypx), xref=xa, yref='paper', showarrow=False,
                                xanchor='center', yanchor='middle', font=font(size, bold)))
    # dashed peak markers
    for wn, y0, y1 in spec['marks']:
        shapes.append(dict(type='line', xref=xa, yref='paper', x0=wn, x1=wn, y0=py(y0), y1=py(y1),
                           line=dict(color='black', width=2.2, dash='17px,8px')))
    # region double arrows
    head = 22 / scale
    for wa, wb, ypx in REGION_ARROWS[kind]:
        shapes.append(dict(type='line', xref=xa, yref='paper', x0=wa - head * 0.8, x1=wb + head * 0.8,
                           y0=py(ypx), y1=py(ypx), line=dict(color='black', width=3)))
        for tip, base in ((wa, wa - head), (wb, wb + head)):
            shapes.append(dict(type='path', xref=xa, yref='paper',
                               path=f'M {tip},{py(ypx)} L {base},{py(ypx - 7)} L {base},{py(ypx + 7)} Z',
                               fillcolor='black', line=dict(color='black', width=1)))
    # 4X arrow and boundary
    tip, base, ypx = FOURX[kind]
    corner = spec['corner']
    shapes.append(dict(type='path', xref=xa, yref='paper',
                       path=f'M {tip},{py(ypx)} L {base},{py(ypx - 9)} L {base},{py(ypx + 9)} Z',
                       fillcolor='black', line=dict(color='black', width=1)))
    shapes.append(dict(type='line', xref=xa, yref='paper', x0=base, x1=corner, y0=py(ypx), y1=py(ypx),
                       line=dict(color='black', width=2.5, dash='14px,5px')))
    shapes.append(dict(type='line', xref=xa, yref='paper', x0=corner, x1=corner, y0=py(ypx), y1=py(PLOT_BOTTOM),
                       line=dict(color='black', width=2.5, dash='15px,8px')))
    # temperature labels
    tx, anchor, ys, tsize = TEMP_LABEL_POS[name]
    for t, ypx in zip(temps, ys):
        annotations.append(dict(text=f'{t} <sup>o</sup>C', x=px(tx), y=py(ypx), xref='paper', yref='paper',
                                showarrow=False, xanchor=anchor, yanchor='middle', font=font(tsize)))

# axis titles
for cx in (426, 1118, 1900, 2632):
    annotations.append(dict(text='Wavenumbers (cm<sup>-1</sup>)', x=px(cx), y=py(1562), xref='paper', yref='paper',
                            showarrow=False, xanchor='center', yanchor='middle', font=font(40)))
for cx in (47, 1487):
    annotations.append(dict(text='Absorbance', x=px(cx), y=py(742), xref='paper', yref='paper', textangle=-90,
                            showarrow=False, xanchor='center', yanchor='middle', font=font(44)))
# tick label of the cropped last panel
annotations.append(dict(text='1000', x=px(2890), y=py(1510), xref='paper', yref='paper', showarrow=False,
                        xanchor='left', yanchor='middle', font=font(32)))

# crop between the two figures
shapes.append(dict(type='rect', xref='paper', yref='paper', x0=px(1465), x1=px(1516), y0=0, y1=py(28),
                   fillcolor='white', line=dict(width=0), layer='above'))
# frame tops
shapes.append(dict(type='line', xref='paper', yref='paper', x0=px(78), x1=px(1464), y0=py(PLOT_TOP), y1=py(PLOT_TOP),
                   line=dict(color='black', width=3)))
shapes.append(dict(type='line', xref='paper', yref='paper', x0=px(1517), x1=1, y0=py(PLOT_TOP), y1=py(PLOT_TOP),
                   line=dict(color='black', width=3)))
# banner
shapes.append(dict(type='rect', xref='paper', yref='paper', x0=0, x1=1, y0=py(22), y1=1,
                   fillcolor='#003399', line=dict(width=0), layer='above'))
shapes.append(dict(type='line', xref='paper', yref='paper', x0=0, x1=1, y0=py(23.5), y1=py(23.5),
                   line=dict(color='black', width=3), layer='above'))
shapes.append(dict(type='line', xref='paper', yref='paper', x0=0, x1=1, y0=py(26.5), y1=py(26.5),
                   line=dict(color='#A0A0A0', width=1), layer='above'))

layout['annotations'] = annotations
layout['shapes'] = shapes
fig.update_layout(**layout)
fig.write_html('out.html')
